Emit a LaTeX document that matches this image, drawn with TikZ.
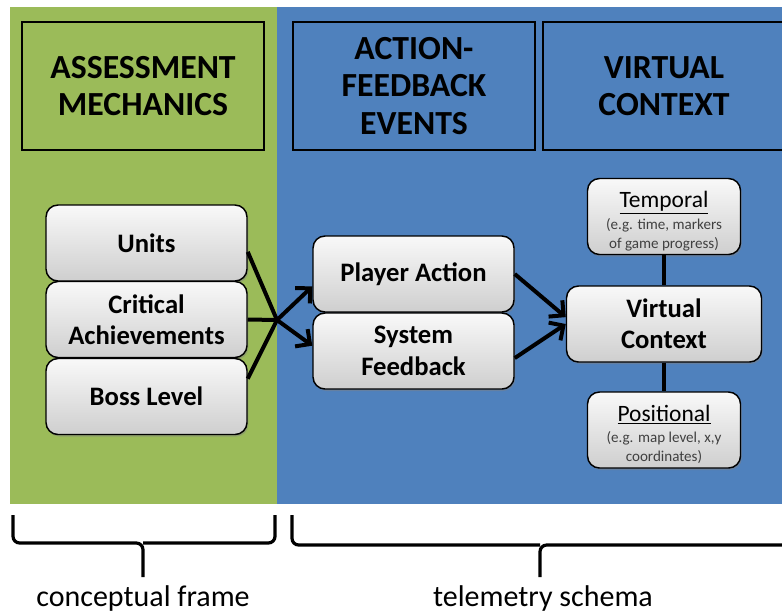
\documentclass[tikz,border=0pt]{standalone}
\usepackage{fontspec}
\setmainfont{Carlito}
\usetikzlibrary{arrows.meta}
\usetikzlibrary{shadows}
\definecolor{frameGreen}{HTML}{9BBB59}
\definecolor{schemaBlue}{HTML}{4F81BD}
\newcommand{\notefont}{\fontsize{11.3}{14.2}\selectfont\color{black!75}}
\tikzset{hdr/.style={draw,line width=0.9pt,minimum width=181.5pt,minimum height=96pt,align=center,
                     font=\fontsize{25.3}{28}\selectfont\bfseries},
         box/.style={draw,rounded corners=9pt,line width=1.1pt,top color=gray!5,bottom color=gray!38,
                     drop shadow={shadow xshift=1pt,shadow yshift=-1.5pt,opacity=0.45},
                     minimum width=150.75pt,minimum height=57pt,inner sep=2pt,align=center,
                     font=\fontsize{20}{23.5}\selectfont\bfseries},
         sub/.style={box,minimum width=114.75pt,font=\fontsize{17.6}{14.2}\selectfont},
        link/.style={line width=3pt},
         arr/.style={link,-{Straight Barb[length=8pt,width=16pt]}},
       brace/.style={line width=2.4pt,rounded corners=5pt},
         lab/.style={font=\fontsize{22.5}{22.5}\selectfont}
         }

\begin{document}
\begin{tikzpicture}[x=0.75pt,y=-0.75pt]
  \useasboundingbox (0,0) rectangle (782,615);

  % the two panels
  \fill[frameGreen] (10,7) rectangle (277,504);
  \fill[schemaBlue] (277,7) rectangle (790,504);

  % column headers
  \node[hdr] (hAM) at (143,86) {ASSESSMENT\\MECHANICS};
  \node[hdr] (hAF) at (414,86) {ACTION-\\FEEDBACK\\EVENTS};
  \node[hdr] (hVC) at (664,86) {VIRTUAL\\CONTEXT};

  % assessment mechanics
  \node[box] (units) at (146.5,243) {Units};
  \node[box] (crit)  at (146.5,319.5) {Critical\\Achievements};
  \node[box] (boss)  at (146.5,396.5) {Boss Level};

  % action-feedback events
  \node[box] (player) at (413.5,274) {Player Action};
  \node[box] (sys)    at (413.5,351) {System\\Feedback};

  % virtual context
  \node[box,minimum width=146.25pt] (vc) at (664,324) {Virtual\\Context};
  \node[sub] (temp) at (664,216.5) {\rule{0pt}{19pt}\underline{Temporal}\\[2pt]\notefont(e.g. time, markers\\\notefont of game progress)};
  \node[sub] (pos)  at (664,430) {\rule{0pt}{19pt}\underline{Positional}\\[2pt]\notefont(e.g. map level, x,y\\\notefont coordinates)};

  \coordinate (hub) at (277,320);
  \draw[link] (units.-5) -- (hub);
  \draw[link] (crit.east) -- (hub);
  \draw[link] (boss.10) -- (hub);
  \draw[arr] (hub) -- (player.187);
  \draw[arr] (hub) -- (sys.177);
  \draw[arr] (player.east) -- (vc.176);
  \draw[arr] (sys.-4) -- (vc.west);
  \draw[link] (temp.south) -- (vc.north);
  \draw[link] (vc.south) -- (pos.north);

  % braces under the panels
  \draw[brace] (13,515) |- (143,543) -- (143,577);
  \draw[brace] (275,515) |- (143,543);
  \draw[brace] (292,515) |- (540,545);
  \draw[brace] (800,545) -| (540,577);
  \node[lab] (cf) at (143,598) {conceptual frame};
  \node[lab] (ts) at (543,598) {telemetry schema};
\end{tikzpicture}
\end{document}
